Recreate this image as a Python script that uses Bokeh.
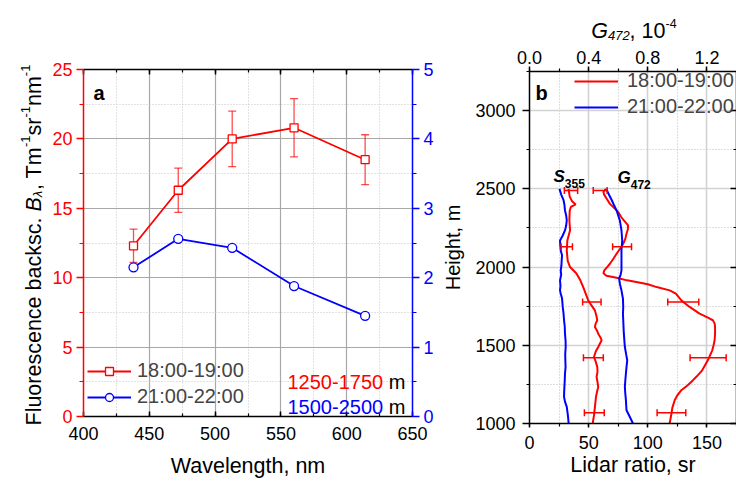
import numpy as np
from bokeh.embed import file_html
from bokeh.layouts import column, row
from bokeh.models import (ColumnDataSource, CustomJSTickFormatter, Label, Legend,
                          LegendItem, LinearAxis, NumeralTickFormatter, Range1d,
                          SingleIntervalTicker, TeeHead, Whisker)
from bokeh.plotting import figure
from bokeh.resources import INLINE

FONT = "Liberation Sans"
RED = "#ff0000"
BLUE = "#0000ff"

# ---------------- Panel a: fluorescence backscattering spectra ----------------
wavelength_nm = [438, 472, 513, 560, 614]
fb_1800_1900 = [12.3, 16.3, 20.0, 20.8, 18.5]          # left axis
fb_1800_1900_err = [1.2, 1.6, 2.0, 2.1, 1.8]
fb_2100_2200 = [2.15, 2.56, 2.43, 1.88, 1.45]          # right axis

# ---------------- Panel b: profiles ----------------
# Lidar ratio S355 (sr), 18:00-19:00
h_s355_a = [2500, 2450, 2420, 2400, 2385, 2360, 2300, 2235, 2170, 2105, 2040, 2000,
            1960, 1915, 1870, 1830, 1790, 1765, 1723, 1690, 1660, 1640, 1617, 1595,
            1574, 1550, 1532, 1510, 1489, 1460, 1425, 1395, 1362, 1330, 1298, 1265,
            1234, 1200, 1170, 1140, 1106, 1050, 1000]
s355_a = [33.0, 34.0, 36.0, 39.0, 35.0, 34.0, 33.7, 34.3, 32.0, 31.5, 32.3, 34.3,
          39.5, 43.0, 45.5, 47.5, 49.5, 51.5, 55.3, 56.5, 57.3, 56.0, 55.3, 57.0,
          58.1, 60.0, 61.0, 59.5, 58.1, 56.0, 54.5, 56.0, 57.3, 57.5, 56.7, 57.5,
          58.1, 57.0, 56.2, 55.8, 55.3, 54.5, 53.4]

# Lidar ratio S355 (sr), 21:00-22:00
h_s355_b = [2500, 2460, 2430, 2400, 2362, 2330, 2298, 2265, 2234, 2200, 2170, 2140,
            2106, 2075, 2043, 2010, 1979, 1950, 1915, 1880, 1851, 1830, 1800, 1745,
            1700, 1660, 1620, 1574, 1530, 1489, 1445, 1404, 1360, 1319, 1275, 1234,
            1200, 1170, 1140, 1106, 1050, 1000]
s355_b = [25.3, 27.0, 28.7, 29.5, 30.0, 31.0, 31.5, 31.0, 30.0, 28.0, 25.8, 26.0,
          26.4, 27.5, 27.2, 27.0, 26.4, 26.8, 25.8, 26.2, 25.8, 26.4, 27.5, 28.1,
          28.8, 29.2, 29.8, 30.0, 30.5, 30.6, 30.2, 30.3, 30.5, 30.0, 29.8, 29.5,
          29.3, 29.2, 30.0, 31.5, 32.5, 33.1]

# Fluorescence capacity G472 (1e-4), 18:00-19:00
h_g472_a = [2500, 2480, 2463, 2440, 2404, 2380, 2351, 2320, 2298, 2266, 2240, 2213,
            2180, 2149, 2120, 2085, 2050, 2021, 2000, 1979, 1960, 1945, 1932, 1915,
            1904, 1890, 1872, 1851, 1830, 1787, 1745, 1702, 1675, 1660, 1640, 1617,
            1574, 1532, 1500, 1468, 1404, 1340, 1300, 1277, 1245, 1213, 1180, 1149,
            1100, 1064, 1000]
g472_a = [0.517, 0.500, 0.505, 0.520, 0.544, 0.570, 0.600, 0.620, 0.638, 0.667, 0.665,
          0.656, 0.648, 0.634, 0.615, 0.589, 0.565, 0.544, 0.525, 0.506, 0.500, 0.520,
          0.589, 0.660, 0.723, 0.800, 0.860, 0.948, 0.990, 1.027, 1.083, 1.150, 1.210,
          1.240, 1.252, 1.255, 1.255, 1.252, 1.245, 1.236, 1.206, 1.168, 1.130, 1.106,
          1.070, 1.027, 1.000, 0.982, 0.966, 0.960, 0.948]

# Fluorescence capacity G472 (1e-4), 21:00-22:00
h_g472_b = [2500, 2465, 2430, 2395, 2362, 2330, 2298, 2234, 2170, 2106, 2043, 1979,
            1950, 1926, 1890, 1851, 1798, 1745, 1700, 1660, 1574, 1489, 1440, 1404,
            1360, 1319, 1275, 1234, 1190, 1149, 1085, 1043, 1000]
g472_b = [0.520, 0.536, 0.555, 0.572, 0.589, 0.600, 0.611, 0.622, 0.627, 0.622, 0.622,
          0.622, 0.616, 0.606, 0.612, 0.622, 0.632, 0.634, 0.632, 0.634, 0.638, 0.645,
          0.654, 0.661, 0.656, 0.652, 0.648, 0.645, 0.648, 0.652, 0.656, 0.678, 0.700]

# Error bars (18:00-19:00)
err_height = [2490, 2130, 1777, 1421, 1068]
s355_bar = [35.1, 31.5, 52.7, 54.0, 54.8]
s355_bar_err = [5.6, 4.8, 7.8, 8.4, 8.4]
g472_bar = [0.478, 0.626, 1.040, 1.208, 0.960]
g472_bar_err = [0.047, 0.064, 0.105, 0.122, 0.097]

# Advance widths (1/1000 em) of the Arial-metric font, used to lay out rich labels
_W = {" ": 278, ",": 278, ".": 278, "-": 333, ":": 278, "B": 667, "F": 611, "G": 778,
      "S": 667, "T": 611, "a": 556, "b": 556, "c": 500, "e": 556, "k": 500, "l": 222,
      "m": 833, "n": 556, "o": 556, "r": 333, "s": 500, "u": 556, "\u03bb": 556}


def text_width(s, size):
    return sum(_W.get(ch, 556) for ch in s) * size / 1000.0


def rich_text(p, x0, y0, pieces, angle=0.0):
    """Lay out (text, size, style, rise, color) pieces one after another (screen units)."""
    pos = 0.0
    for txt, size, style, rise, color in pieces:
        lead = len(txt) - len(txt.lstrip(" "))
        pos += text_width(" " * lead, size)
        txt = txt.lstrip(" ")
        if angle:
            x, y = x0 - rise, y0 + pos
        else:
            x, y = x0 + pos, y0 + rise
        p.add_layout(Label(x=x, y=y, x_units="screen", y_units="screen", text=txt,
                           text_font=FONT, text_font_size=f"{size}px",
                           text_font_style=style, text_color=color,
                           text_align="left", text_baseline="alphabetic", angle=angle))
        pos += text_width(txt, size)


def style_axis(ax, color, tin, tout, min_in, min_out, standoff, size="18px"):
    ax.axis_line_color = color
    ax.axis_line_width = 1.5
    ax.major_tick_line_color = color
    ax.minor_tick_line_color = color
    ax.major_tick_line_width = 1.5
    ax.minor_tick_line_width = 1.2
    ax.major_tick_in = tin
    ax.major_tick_out = tout
    ax.minor_tick_in = min_in
    ax.minor_tick_out = min_out
    ax.major_label_text_color = color
    ax.major_label_text_font = FONT
    ax.major_label_text_font_size = size
    ax.major_label_standoff = standoff


def style_title(ax, size, standoff):
    ax.axis_label_text_font = FONT
    ax.axis_label_text_font_size = size
    ax.axis_label_text_font_style = "normal"
    ax.axis_label_text_color = "black"
    ax.axis_label_standoff = standoff


def text_canvas(width, height):
    c = figure(width=width, height=height, min_border=0, x_axis_location=None,
               y_axis_location=None, toolbar_location=None, outline_line_color=None,
               output_backend="svg", x_range=Range1d(0, 1), y_range=Range1d(0, 1),
               background_fill_color="white", border_fill_color="white",
               frame_align=False, title=None)
    c.grid.visible = False
    return c


blank = CustomJSTickFormatter(code="return ''")

# ================= Panel a =================
p1 = figure(frame_width=329, frame_height=347, x_range=Range1d(400, 650),
            y_range=Range1d(0, 25), min_border_left=39, min_border_right=24,
            min_border_top=69, min_border_bottom=65, output_backend="svg",
            toolbar_location=None, outline_line_color=None, frame_align=False,
            background_fill_color="white", border_fill_color="white")
p1.extra_y_ranges = {"right": Range1d(0, 5)}

p1.xaxis.ticker = SingleIntervalTicker(interval=50, num_minor_ticks=2)
p1.yaxis.ticker = SingleIntervalTicker(interval=5, num_minor_ticks=2)
style_axis(p1.xaxis[0], "black", 5, 0, 3, 0, 10)
style_axis(p1.yaxis[0], RED, 0, 7, 0, 4, 4)
p1.xaxis.axis_label = "Wavelength, nm"
style_title(p1.xaxis[0], "21.5px", 11)

ax_top1 = LinearAxis(ticker=SingleIntervalTicker(interval=50, num_minor_ticks=2),
                     formatter=blank)
style_axis(ax_top1, "black", 5, 0, 3, 0, 0)
p1.add_layout(ax_top1, "above")

ax_right1 = LinearAxis(y_range_name="right",
                       ticker=SingleIntervalTicker(interval=1, num_minor_ticks=2))
style_axis(ax_right1, BLUE, 0, 7, 0, 4, 4)
p1.add_layout(ax_right1, "right")

for g in (p1.xgrid[0], p1.ygrid[0]):
    g.grid_line_color = "#a8a8a8"
    g.grid_line_width = 1.2
    g.minor_grid_line_color = "#c4c4c4"
    g.minor_grid_line_dash = "1 2"
    g.minor_grid_line_width = 1

src_a = ColumnDataSource(dict(
    x=wavelength_nm, y=fb_1800_1900,
    lo=[v - e for v, e in zip(fb_1800_1900, fb_1800_1900_err)],
    hi=[v + e for v, e in zip(fb_1800_1900, fb_1800_1900_err)]))
p1.add_layout(Whisker(source=src_a, base="x", lower="lo", upper="hi",
                      line_color=RED, line_alpha=0.7, line_width=1.3,
                      upper_head=TeeHead(size=8, line_color=RED, line_alpha=0.7, line_width=1.3),
                      lower_head=TeeHead(size=8, line_color=RED, line_alpha=0.7, line_width=1.3)))
red_line = p1.line("x", "y", source=src_a, line_color=RED, line_width=1.8)
red_pts = p1.scatter("x", "y", source=src_a, marker="square", size=8,
                     fill_color="white", line_color=RED, line_width=1.3)
blue_line = p1.line(wavelength_nm, fb_2100_2200, y_range_name="right",
                    line_color=BLUE, line_width=1.8)
blue_pts = p1.scatter(wavelength_nm, fb_2100_2200, y_range_name="right", marker="circle",
                      size=9, fill_color="white", line_color=BLUE, line_width=1.3)

leg1 = Legend(items=[LegendItem(label="18:00-19:00", renderers=[red_line, red_pts]),
                     LegendItem(label="21:00-22:00", renderers=[blue_line, blue_pts])],
              location=(4, 8), glyph_width=44, glyph_height=20, label_height=20,
              label_standoff=6, spacing=3, padding=0, margin=0,
              label_text_font=FONT, label_text_font_size="20px",
              background_fill_alpha=0, border_line_color=None)
p1.add_layout(leg1)

rich_text(p1, 204, 35, [("1250-1750", 20, "normal", 0, RED), (" m", 20, "normal", 0, "black")])
rich_text(p1, 204, 9.5, [("1500-2500", 20, "normal", 0, BLUE), (" m", 20, "normal", 0, "black")])
rich_text(p1, 10, 324, [("a", 20, "bold", 0, "black")])

# vertical title of panel a, on its own narrow canvas
t_left = text_canvas(44, 481)
rich_text(t_left, 33, 56, [
    ("Fluorescence backsc. ", 21.5, "normal", 0, "black"),
    ("B", 21.5, "italic", 0, "black"),
    ("\u03bb", 13, "italic", -4, "black"),
    (", Tm", 21.5, "normal", 0, "black"),
    ("-1", 13, "normal", 8, "black"),
    ("sr", 21.5, "normal", 0, "black"),
    ("-1", 13, "normal", 8, "black"),
    ("nm", 21.5, "normal", 0, "black"),
    ("-1", 13, "normal", 8, "black"),
], angle=np.pi / 2)

# ================= Panel b =================
p2 = figure(frame_width=207, frame_height=352, x_range=Range1d(0, 175),
            y_range=Range1d(1000, 3250), min_border_left=93, min_border_right=0,
            min_border_top=29, min_border_bottom=58, output_backend="svg",
            toolbar_location=None, outline_line_color=None, frame_align=False,
            background_fill_color="white", border_fill_color="white")
p2.extra_x_ranges = {"g": Range1d(0, 1.4)}

p2.xaxis.ticker = SingleIntervalTicker(interval=50, num_minor_ticks=2)
p2.yaxis.ticker = SingleIntervalTicker(interval=500, num_minor_ticks=2)
style_axis(p2.xaxis[0], "black", 0, 4, 0, 3, 8)
style_axis(p2.yaxis[0], "black", 0, 7, 0, 3, 7)
p2.xaxis.axis_label = "Lidar ratio, sr"
style_title(p2.xaxis[0], "21.5px", 1)
p2.yaxis.axis_label = "Height, m"
style_title(p2.yaxis[0], "20px", 8)

ax_top2 = LinearAxis(x_range_name="g",
                     ticker=SingleIntervalTicker(interval=0.4, num_minor_ticks=2),
                     formatter=NumeralTickFormatter(format="0.0"))
style_axis(ax_top2, "black", 0, 5, 0, 3, 3)
p2.add_layout(ax_top2, "above")

ax_right2 = LinearAxis(ticker=SingleIntervalTicker(interval=500, num_minor_ticks=2),
                       formatter=blank)
style_axis(ax_right2, "black", 6, 0, 3, 0, 0)
p2.add_layout(ax_right2, "right")

for g in (p2.xgrid[0], p2.ygrid[0]):
    g.grid_line_color = "#d2d2d2"
    g.grid_line_width = 1.6
    g.minor_grid_line_color = "#bdbdbd"
    g.minor_grid_line_dash = "1 2"
    g.minor_grid_line_width = 1

s_a = p2.line(s355_a, h_s355_a, line_color=RED, line_width=2)
s_b = p2.line(s355_b, h_s355_b, line_color=BLUE, line_width=2)
p2.line(g472_a, h_g472_a, x_range_name="g", line_color=RED, line_width=2)
p2.line(g472_b, h_g472_b, x_range_name="g", line_color=BLUE, line_width=2)

src_s = ColumnDataSource(dict(
    h=err_height,
    lo=[v - e for v, e in zip(s355_bar, s355_bar_err)],
    hi=[v + e for v, e in zip(s355_bar, s355_bar_err)]))
src_g = ColumnDataSource(dict(
    h=err_height,
    lo=[v - e for v, e in zip(g472_bar, g472_bar_err)],
    hi=[v + e for v, e in zip(g472_bar, g472_bar_err)]))
for src, rng in ((src_s, "default"), (src_g, "g")):
    p2.add_layout(Whisker(source=src, base="h", lower="lo", upper="hi", dimension="width",
                          x_range_name=rng, line_color=RED, line_width=1.5, level="overlay",
                          upper_head=TeeHead(size=7, line_color=RED, line_width=1.5),
                          lower_head=TeeHead(size=7, line_color=RED, line_width=1.5)))

leg2 = Legend(items=[LegendItem(label="18:00-19:00", renderers=[s_a]),
                     LegendItem(label="21:00-22:00", renderers=[s_b])],
              location=(45, 305), glyph_width=44, glyph_height=20, label_height=20,
              label_standoff=9, spacing=3, padding=0, margin=0,
              label_text_font=FONT, label_text_font_size="20px",
              background_fill_alpha=0, border_line_color=None)
p2.add_layout(leg2)

rich_text(p2, 6, 331, [("b", 20, "bold", 0, "black")])
rich_text(p2, 24, 247, [("S", 17, "bold italic", 0, "black"), ("355", 12, "bold", -6.5, "black")])
rich_text(p2, 88, 246.5, [("G", 17, "bold italic", 0, "black"), ("472", 12, "bold", -7.5, "black")])

# top title of panel b, on its own strip above the plot
t_top = text_canvas(296, 42)
rich_text(t_top, 154.7, 12, [("G", 21.5, "italic", 0, "black"),
                             ("472", 13, "italic", -5, "black"),
                             (", 10", 21.5, "normal", 0, "black"),
                             ("-4", 12.5, "normal", 7, "black")])

layout = row(t_left, p1, column(t_top, p2))
open("out.html", "w").write(file_html(layout, INLINE))
